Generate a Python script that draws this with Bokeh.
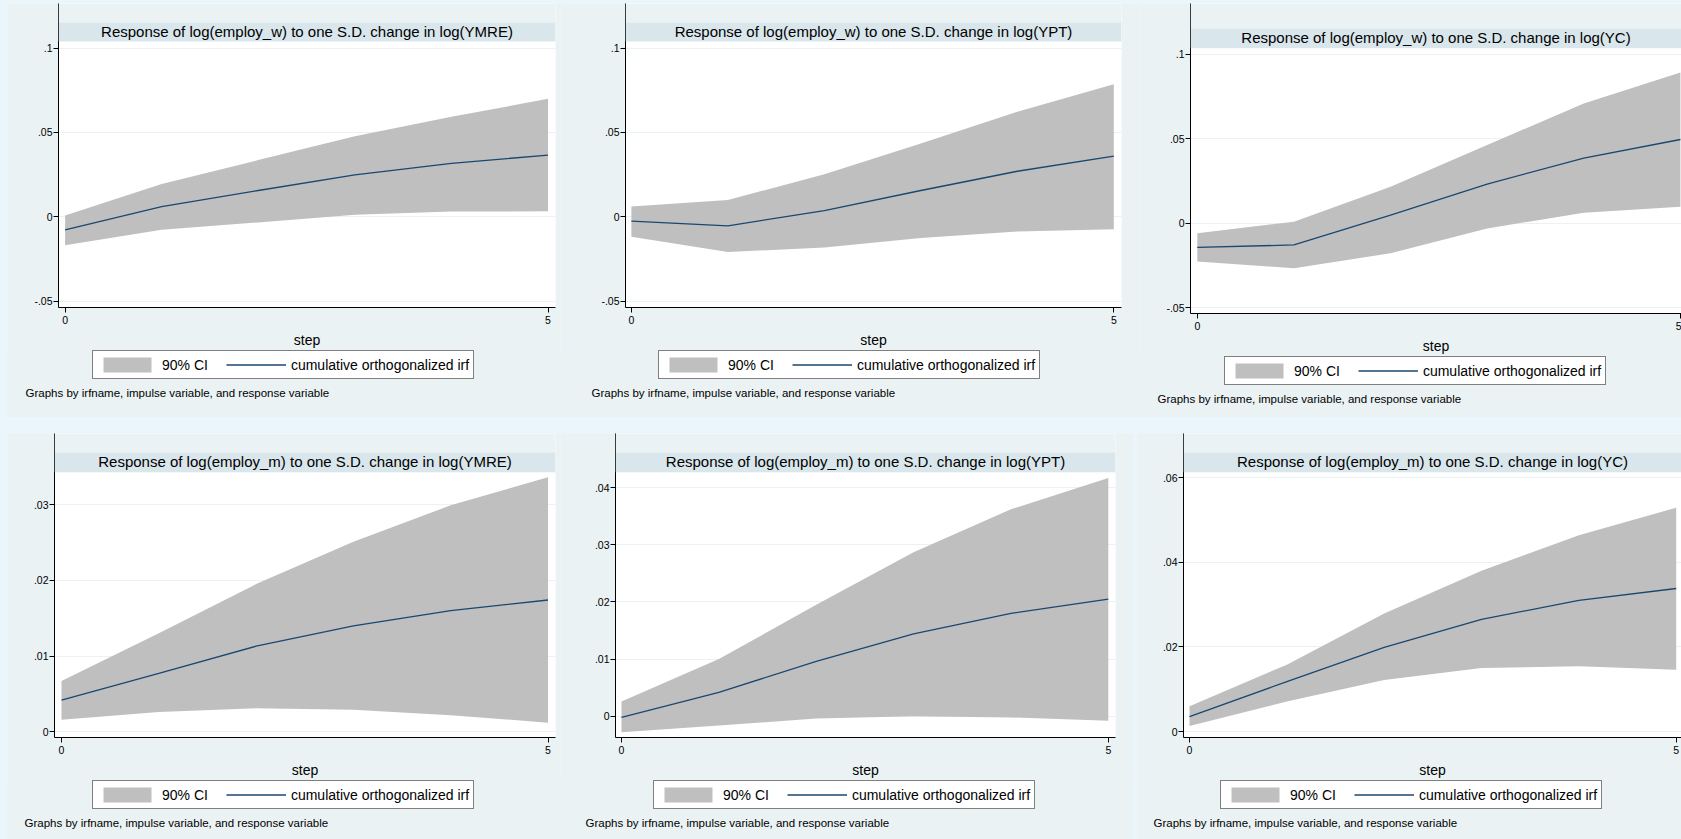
from bokeh.plotting import figure
from bokeh.models import (Range1d, FixedTicker, BoxAnnotation, Label, Legend,
                          LegendItem, Spacer)
from bokeh.layouts import row, column
from bokeh.embed import file_html
from bokeh.resources import INLINE

# ---------------- data ----------------
steps = [0, 1, 2, 3, 4, 5]

w_ymre_irf = [-0.0077, 0.0061, 0.0156, 0.0248, 0.0317, 0.0366]
w_ymre_upper = [0.0008, 0.0195, 0.0336, 0.0478, 0.0593, 0.0699]
w_ymre_lower = [-0.0169, -0.0077, -0.0033, 0.0012, 0.0031, 0.0033]

w_ypt_irf = [-0.0026, -0.0053, 0.0037, 0.0156, 0.0270, 0.0360]
w_ypt_upper = [0.0061, 0.0100, 0.0252, 0.0435, 0.0622, 0.0785]
w_ypt_lower = [-0.0118, -0.0209, -0.0181, -0.0126, -0.0087, -0.0073]

w_yc_irf = [-0.0142, -0.0128, 0.0049, 0.0232, 0.0386, 0.0496]
w_yc_upper = [-0.0059, 0.0010, 0.0217, 0.0463, 0.0709, 0.0892]
w_yc_lower = [-0.0226, -0.0266, -0.0177, -0.0030, 0.0063, 0.0098]

m_ymre_irf = [0.0042, 0.0077, 0.0113, 0.0140, 0.0160, 0.0174]
m_ymre_upper = [0.0067, 0.0130, 0.0195, 0.0251, 0.0299, 0.0336]
m_ymre_lower = [0.0016, 0.0026, 0.0031, 0.0029, 0.0022, 0.0012]

m_ypt_irf = [-0.0002, 0.0042, 0.0096, 0.0144, 0.0180, 0.0205]
m_ypt_upper = [0.0026, 0.0100, 0.0195, 0.0287, 0.0362, 0.0417]
m_ypt_lower = [-0.0028, -0.0016, -0.0004, 0.0000, -0.0002, -0.0008]

m_yc_irf = [0.0035, 0.0118, 0.0199, 0.0265, 0.0310, 0.0338]
m_yc_upper = [0.0060, 0.0158, 0.0279, 0.0380, 0.0464, 0.0529]
m_yc_lower = [0.0013, 0.0071, 0.0122, 0.0150, 0.0154, 0.0146]

titles = [
    "Response of log(employ_w) to one S.D. change in log(YMRE)",
    "Response of log(employ_w) to one S.D. change in log(YPT)",
    "Response of log(employ_w) to one S.D. change in log(YC)",
    "Response of log(employ_m) to one S.D. change in log(YMRE)",
    "Response of log(employ_m) to one S.D. change in log(YPT)",
    "Response of log(employ_m) to one S.D. change in log(YC)",
]

yticks_w = [-0.05, 0, 0.05, 0.1]
ylabels_w = ["-.05", "0", ".05", ".1"]
yticks_m_ymre = [0, 0.01, 0.02, 0.03]
ylabels_m_ymre = ["0", ".01", ".02", ".03"]
yticks_m_ypt = [0, 0.01, 0.02, 0.03, 0.04]
ylabels_m_ypt = ["0", ".01", ".02", ".03", ".04"]
yticks_m_yc = [0, 0.02, 0.04, 0.06]
ylabels_m_yc = ["0", ".02", ".04", ".06"]

xticks = [0, 5]
xlabels = ["0", "5"]

x_title = "step"
ci_label = "90% CI"
irf_label = "cumulative orthogonalized irf"
note_text = "Graphs by irfname, impulse variable, and response variable"

# ---------------- style ----------------
PAGE_BG = "#EAF6FB"
PANEL_BG = "#EAF2F3"
BAR_BG = "#D9E6EB"
CI_FILL = "#BFBFBF"
IRF_COLOR = "#1A476F"
GRID = "#EAF2F3"
FONT = "Liberation Sans"
AXIS_AREA = 42   # room below the x-axis line for ticks, labels and "step"

# layout geometry (pixels inside each panel)
# bt: title band top, pt: plot-region top, fb: x-axis line, fl/fr: plot left/right
# leg: (left, bottom) of legend box, note: (left, centre y) of the note
G1 = dict(W=553, H=414, fl=51, fr=548, bt=19, pt=38, fb=305,
          ypx=((0.1, 44.7), (-0.05, 298.7)), xpx=((0, 57.6), (5, 540.5)),
          leg=(85, 376), note=(18, 389))
G2 = dict(W=580, H=414, fl=65, fr=561, bt=19, pt=38, fb=305,
          ypx=((0.1, 44.7), (-0.05, 298.7)), xpx=((0, 70.9), (5, 553.3)),
          leg=(98, 376), note=(31, 389))
G3 = dict(W=541, H=414, fl=50, fr=541, bt=25, pt=45, fb=311,
          ypx=((0.1, 51.0), (-0.05, 305.3)), xpx=((0, 56.8), (5, 539.9)),
          leg=(84, 382), note=(17, 395))
G4 = dict(W=553, H=406, fl=47, fr=548, bt=19, pt=39, fb=305,
          ypx=((0.03, 71.3), (0, 299.3)), xpx=((0, 54.0), (5, 540.5)),
          leg=(85, 376), note=(17, 389))
G5 = dict(W=573, H=406, fl=55, fr=555, bt=19, pt=39, fb=305,
          ypx=((0.04, 54.3), (0, 283.7)), xpx=((0, 61.0), (5, 547.8)),
          leg=(93, 376), note=(25, 389))
G6 = dict(W=544, H=406, fl=46, fr=544, bt=19, pt=39, fb=305,
          ypx=((0.06, 44.3), (0, 299.0)), xpx=((0, 52.0), (5, 538.7)),
          leg=(83, 376), note=(16, 389))

NAN = float("nan")


def lin(p0, v0, p1, v1, p):
    return v0 + (p - p0) * (v1 - v0) / (p1 - p0)


def no_align(fig):
    if "frame_align" in fig.properties():
        fig.frame_align = False


def panel(title, lower, irf, upper, yt, ylab, g):
    W, H = g["W"], g["H"]
    fl, fr, bt, pt, fb = g["fl"], g["fr"], g["bt"], g["pt"], g["fb"]
    (ya, pya), (yb, pyb) = g["ypx"]
    (xa, pxa), (xb, pxb) = g["xpx"]
    y_start = lin(pya, ya, pyb, yb, fb)
    y_end = lin(pya, ya, pyb, yb, 0)
    y_bar_top = lin(pya, ya, pyb, yb, bt)
    y_plot_top = lin(pya, ya, pyb, yb, pt)
    x_start = lin(pxa, xa, pxb, xb, fl)
    x_end = lin(pxa, xa, pxb, xb, fr)
    H1 = fb + AXIS_AREA

    p = figure(width=W, height=H1, output_backend="svg", toolbar_location=None,
               title_location=None,
               x_range=Range1d(x_start, x_end), y_range=Range1d(y_start, y_end),
               min_border_left=fl, min_border_right=W - fr,
               min_border_top=0, min_border_bottom=AXIS_AREA)
    no_align(p)
    p.border_fill_color = PANEL_BG
    p.background_fill_color = "white"
    p.outline_line_color = None

    p.varea(x=steps, y1=lower, y2=upper, fill_color=CI_FILL, fill_alpha=1)
    p.line(x=steps, y=irf, line_color=IRF_COLOR, line_width=1.3)

    for ax in (p.xaxis[0], p.yaxis[0]):
        ax.axis_line_color = "black"
        ax.axis_line_width = 1
        ax.major_tick_line_color = "black"
        ax.major_tick_out = 5
        ax.major_tick_in = 0
        ax.minor_tick_line_color = None
        ax.major_label_text_font = FONT
        ax.major_label_text_font_size = "10.5px"
        ax.major_label_text_color = "black"
    p.xaxis.ticker = FixedTicker(ticks=xticks)
    p.xaxis.major_label_overrides = {t: s for t, s in zip(xticks, xlabels)}
    p.xaxis.major_label_standoff = 3
    p.xaxis.axis_label = x_title
    p.xaxis.axis_label_text_font = FONT
    p.xaxis.axis_label_text_font_size = "14px"
    p.xaxis.axis_label_text_font_style = "normal"
    p.xaxis.axis_label_text_color = "black"
    p.xaxis.axis_label_standoff = 5

    p.yaxis.ticker = FixedTicker(ticks=yt)
    p.yaxis.major_label_overrides = {t: s for t, s in zip(yt, ylab)}
    p.yaxis.major_label_standoff = 1
    p.yaxis.major_label_orientation = "horizontal"

    p.xgrid.visible = False
    p.ygrid.grid_line_color = GRID
    p.ygrid.grid_line_width = 1

    # area above the title band (panel colour) and the title band itself
    p.add_layout(BoxAnnotation(bottom=y_bar_top, fill_color=PANEL_BG,
                               fill_alpha=1, line_color=None))
    p.add_layout(BoxAnnotation(bottom=y_plot_top, top=y_bar_top,
                               fill_color=BAR_BG, fill_alpha=1, line_color=None))
    p.add_layout(Label(x=(fr - fl) / 2, y=fb - (bt + pt) / 2,
                       x_units="screen", y_units="screen", text=title,
                       text_align="center", text_baseline="middle",
                       text_font=FONT, text_font_size="15px",
                       text_color="black"))

    # legend strip underneath (legend keys are invisible proxies)
    H2 = H - H1
    q = figure(width=W, height=H2, output_backend="svg", toolbar_location=None,
               title_location=None, x_axis_location=None, y_axis_location=None,
               x_range=Range1d(0, W), y_range=Range1d(0, H2),
               min_border=0, min_border_left=0, min_border_right=0,
               min_border_top=0, min_border_bottom=0)
    no_align(q)
    q.grid.visible = False
    q.border_fill_color = PANEL_BG
    q.background_fill_color = PANEL_BG
    q.outline_line_color = None
    ci_key = q.varea(x=[NAN], y1=[NAN], y2=[NAN], fill_color=CI_FILL, fill_alpha=1)
    ln_key = q.line(x=[NAN], y=[NAN], line_color=IRF_COLOR, line_width=1.3)
    lg = Legend(items=[LegendItem(label=ci_label, renderers=[ci_key], index=0),
                       LegendItem(label=irf_label, renderers=[ln_key], index=0)],
                orientation="horizontal",
                location=(g["leg"][0], H - g["leg"][1]),
                margin=0, padding=4, spacing=18, label_standoff=5,
                glyph_width=60, glyph_height=19, label_height=18,
                border_line_color="black", border_line_width=1,
                background_fill_color="white", background_fill_alpha=1,
                label_text_font=FONT, label_text_font_size="14px",
                label_text_color="black")
    q.add_layout(lg, "center")
    q.add_layout(Label(x=g["note"][0], y=H - g["note"][1],
                       x_units="screen", y_units="screen", text=note_text,
                       text_align="left", text_baseline="middle",
                       text_font=FONT, text_font_size="11.5px",
                       text_color="black"))
    return column(p, q, spacing=0)


c1 = panel(titles[0], w_ymre_lower, w_ymre_irf, w_ymre_upper, yticks_w, ylabels_w, G1)
c2 = panel(titles[1], w_ypt_lower, w_ypt_irf, w_ypt_upper, yticks_w, ylabels_w, G2)
c3 = panel(titles[2], w_yc_lower, w_yc_irf, w_yc_upper, yticks_w, ylabels_w, G3)
c4 = panel(titles[3], m_ymre_lower, m_ymre_irf, m_ymre_upper, yticks_m_ymre, ylabels_m_ymre, G4)
c5 = panel(titles[4], m_ypt_lower, m_ypt_irf, m_ypt_upper, yticks_m_ypt, ylabels_m_ypt, G5)
c6 = panel(titles[5], m_yc_lower, m_yc_irf, m_yc_upper, yticks_m_yc, ylabels_m_yc, G6)

top = row(Spacer(width=7, height=414), c1, c2, c3, spacing=0)
bottom = row(Spacer(width=7, height=406), c4, c5, Spacer(width=4, height=406), c6,
             spacing=0)
layout = column(Spacer(width=1681, height=3), top, Spacer(width=1681, height=16),
                bottom, spacing=0, styles={"background-color": PAGE_BG})

open("out.html", "w").write(file_html(layout, INLINE))
